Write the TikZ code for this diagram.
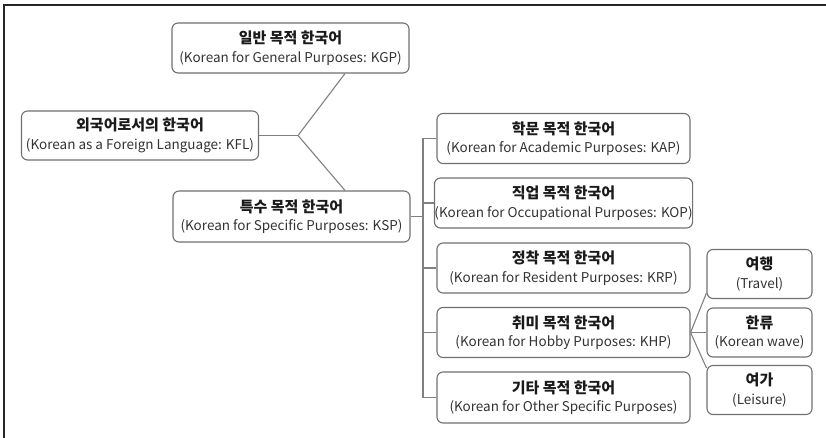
\documentclass[tikz,border=0pt]{standalone}
\usepackage{fontspec}
\setmainfont{Noto Sans CJK KR}
\usetikzlibrary{calc}
\definecolor{boxline}{HTML}{707070}
\definecolor{conline}{HTML}{808080}
\definecolor{txtdark}{HTML}{1A1A1A}
\definecolor{txtsub}{HTML}{333333}
\newcommand{\twoline}[2]{{\fontsize{15}{19}\selectfont\bfseries #1}\\{\color{txtsub}#2}}
\tikzset{
  catbox/.style={draw=boxline, line width=1.1pt, rounded corners=6pt, align=center,
    text=txtdark, inner sep=0pt, minimum height=50pt, font=\fontsize{13.5}{18.5}\selectfont},
  bigbox/.style={catbox, minimum width=237pt},
  midbox/.style={catbox, minimum width=253pt},
  smallbox/.style={catbox, minimum width=105pt, minimum height=49pt},
  conn/.style={draw=conline, line width=1.1pt},
  frameline/.style={draw=black!85, line width=1.6pt}
}
\begin{document}
\begin{tikzpicture}[x=1pt,y=-1pt]
\useasboundingbox (0,0) rectangle (826,438);
\coordinate (fa) at (4,438);
\coordinate (fb) at (4,5);
\coordinate (fc) at (826,5);
\draw[frameline] (fa) -- (fb) -- (fc);

\node[bigbox] (KGP) at (290.5,48) {\twoline{일반 목적 한국어}{(Korean for General Purposes: KGP)}};
\node[bigbox, minimum height=49pt] (KFL) at (140,135.5) {\twoline{외국어로서의 한국어}{(Korean as a Foreign Language: KFL)}};
\node[bigbox, minimum height=51pt] (KSP) at (291.5,216.5) {\twoline{특수 목적 한국어}{(Korean for Specific Purposes: KSP)}};

\node[midbox] (KAP) at (563.5,138.5) {\twoline{학문 목적 한국어}{(Korean for Academic Purposes: KAP)}};
\node[midbox] (KOP) at (563.5,203) {\twoline{직업 목적 한국어}{(Korean for Occupational Purposes: KOP)}};
\node[midbox] (KRP) at (563.5,268) {\twoline{정착 목적 한국어}{(Korean for Resident Purposes: KRP)}};
\node[midbox] (KHP) at (563.5,332.5) {\twoline{취미 목적 한국어}{(Korean for Hobby Purposes: KHP)}};
\node[midbox, minimum height=51pt] (KOS) at (563.5,397.5) {\twoline{기타 목적 한국어}{(Korean for Other Specific Purposes)}};

\node[smallbox] (TRV) at (759.5,274) {\twoline{여행}{(Travel)}};
\node[smallbox] (WAV) at (759.5,332.5) {\twoline{한류}{(Korean wave)}};
\node[smallbox] (LEI) at (759.5,390) {\twoline{여가}{(Leisure)}};

% KFL -> KGP / KSP
\coordinate (j1) at (298,135.5);
\draw[conn] (KFL.east) -- (j1);
\draw[conn] (j1) -- ($(KGP.south)+(54.5,0)$);
\draw[conn] (j1) -- ($(KSP.north)+(53.5,0)$);

% KSP -> trunk
\coordinate (t) at (423,216.5);
\draw[conn] (KSP.east) -- (t);
\draw[conn] (t |- KAP.west) -- (t |- KOS.west);
\foreach \n in {KAP,KOP,KRP,KHP,KOS}{
  \draw[conn] (t |- \n.west) -- (\n.west);
}

% KHP -> sub boxes
\draw[conn] (KHP.east) -- (WAV.west);
\draw[conn] (KHP.east) -- ($(TRV.south west)+(0,-6)$);
\draw[conn] (KHP.east) -- ($(LEI.north west)+(0,3)$);
\end{tikzpicture}
\end{document}
